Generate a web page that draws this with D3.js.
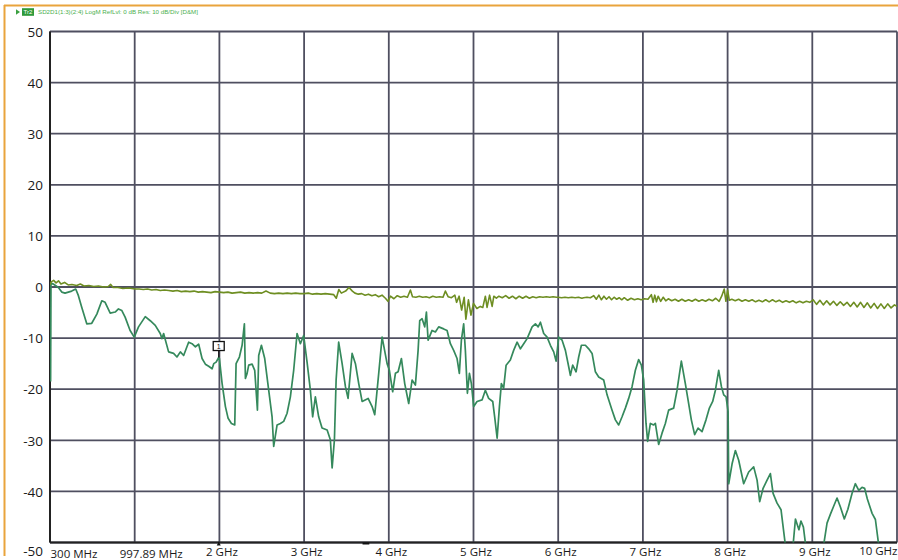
<!DOCTYPE html>
<html>
<head>
<meta charset="utf-8">
<script src="https://cdn.jsdelivr.net/npm/d3@7"></script>
<style>
  html, body { margin: 0; padding: 0; background: #ffffff; }
  svg { display: block; }
</style>
</head>
<body>
<svg id="chart" width="898" height="560"></svg>
<script>
// ---------------- DATA ----------------
const freqTicks = [0.3, 0.99789, 2, 3, 4, 5, 6, 7, 8, 9, 10];          // GHz at each vertical grid line
const freqLabels = ["300 MHz", "997.89 MHz", "2 GHz", "3 GHz", "4 GHz", "5 GHz", "6 GHz", "7 GHz", "8 GHz", "9 GHz", "10 GHz"];
const dbTicks = [50, 40, 30, 20, 10, 0, -10, -20, -30, -40, -50];
const headerTrace = "Tr2";
const headerText = "SD2D1(1:3)(2:4)  LogM RefLvl: 0  dB Res: 10  dB/Div  [D&M]";

// Lower trace (green) : [frequency GHz, dB]
const lowerTrace = [
[0.305,-18.5],[0.308,0.8],[0.327,0.6],[0.369,-0.1],[0.397,-1.0],[0.424,-1.2],[0.451,-1.0],[0.479,-0.8],[0.512,-0.4],[0.534,-1.7],
[0.562,-4.0],[0.603,-7.2],[0.644,-7.1],[0.686,-5.3],[0.727,-2.7],[0.754,-3.0],[0.796,-5.1],[0.837,-4.9],[0.864,-4.3],[0.892,-4.6],
[0.919,-5.9],[0.960,-8.5],[0.994,-9.8],[1.043,-7.8],[1.123,-5.8],[1.182,-6.6],[1.241,-7.5],[1.300,-9.1],[1.321,-10.1],[1.340,-9.1],
[1.399,-12.7],[1.458,-13.0],[1.498,-13.7],[1.538,-12.7],[1.577,-13.4],[1.636,-10.8],[1.676,-11.1],[1.716,-11.7],[1.755,-11.2],[1.795,-14.0],
[1.834,-15.1],[1.873,-15.5],[1.914,-16.0],[1.933,-15.0],[1.961,-14.7],[1.992,-13.8],[2.000,-14.0],[2.032,-18.9],[2.071,-23.4],[2.103,-25.7],
[2.142,-26.7],[2.181,-27.0],[2.197,-15.0],[2.236,-13.7],[2.268,-11.4],[2.295,-7.2],[2.307,-17.9],[2.327,-16.9],[2.346,-15.3],[2.386,-15.1],
[2.417,-16.3],[2.449,-24.1],[2.464,-13.4],[2.496,-11.4],[2.535,-14.0],[2.582,-20.2],[2.622,-25.4],[2.641,-31.2],[2.681,-27.0],[2.720,-26.7],
[2.759,-26.3],[2.799,-24.7],[2.838,-21.5],[2.877,-16.3],[2.917,-9.1],[2.956,-11.1],[2.995,-9.5],[3.035,-14.7],[3.074,-20.2],[3.101,-25.4],
[3.133,-21.5],[3.172,-25.4],[3.212,-27.6],[3.272,-28.0],[3.310,-29.9],[3.331,-35.4],[3.358,-29.9],[3.378,-18.2],[3.408,-10.8],[3.449,-15.0],
[3.488,-19.5],[3.519,-21.8],[3.567,-13.0],[3.606,-15.0],[3.645,-18.9],[3.685,-22.4],[3.756,-21.8],[3.803,-23.4],[3.834,-25.0],[3.881,-16.9],
[3.921,-9.8],[3.980,-15.0],[4.007,-16.3],[4.046,-20.5],[4.078,-16.9],[4.110,-16.6],[4.149,-14.0],[4.188,-18.9],[4.235,-22.8],[4.275,-18.2],
[4.314,-19.2],[4.346,-12.4],[4.365,-6.6],[4.393,-6.2],[4.424,-7.8],[4.444,-4.9],[4.464,-10.4],[4.511,-8.5],[4.550,-8.8],[4.589,-7.8],
[4.648,-8.2],[4.688,-8.5],[4.727,-11.1],[4.766,-12.4],[4.806,-14.0],[4.833,-16.9],[4.857,-10.4],[4.884,-7.2],[4.904,-12.4],[4.928,-20.8],
[4.952,-16.9],[4.975,-18.9],[5.002,-23.4],[5.042,-22.4],[5.101,-22.1],[5.140,-20.2],[5.179,-21.8],[5.227,-22.4],[5.250,-25.4],[5.279,-29.6],
[5.306,-23.4],[5.329,-18.9],[5.356,-19.8],[5.385,-15.3],[5.435,-14.3],[5.474,-12.4],[5.515,-10.8],[5.554,-12.1],[5.593,-11.1],[5.633,-10.1],
[5.692,-7.8],[5.731,-7.2],[5.763,-7.8],[5.790,-6.9],[5.829,-9.1],[5.869,-9.8],[5.908,-11.4],[5.947,-12.7],[5.975,-14.5],[6.006,-9.8],
[6.046,-10.4],[6.085,-12.4],[6.124,-15.6],[6.144,-17.3],[6.171,-15.3],[6.211,-16.6],[6.242,-13.7],[6.274,-11.4],[6.321,-11.4],[6.360,-12.1],
[6.400,-13.0],[6.439,-16.6],[6.478,-17.6],[6.537,-18.2],[6.577,-21.1],[6.636,-24.1],[6.675,-26.0],[6.714,-27.0],[6.754,-25.4],[6.793,-23.7],
[6.832,-21.8],[6.872,-19.5],[6.911,-16.3],[6.950,-14.2],[6.982,-15.3],[7.009,-18.2],[7.037,-26.7],[7.056,-30.2],[7.088,-26.7],[7.127,-27.0],
[7.147,-26.7],[7.186,-30.8],[7.226,-28.6],[7.265,-26.7],[7.304,-24.1],[7.363,-23.7],[7.403,-20.2],[7.454,-14.5],[7.501,-18.9],[7.533,-22.1],
[7.572,-26.0],[7.611,-28.9],[7.651,-27.6],[7.698,-28.3],[7.745,-26.0],[7.785,-23.7],[7.824,-22.4],[7.856,-20.2],[7.895,-16.3],[7.927,-19.5],
[7.954,-21.1],[7.982,-21.5],[8.006,-24.4],[8.013,-38.5],[8.053,-34.6],[8.092,-32.0],[8.131,-33.9],[8.190,-38.5],[8.249,-36.2],[8.308,-35.2],
[8.348,-37.8],[8.379,-42.0],[8.419,-39.4],[8.466,-37.8],[8.505,-36.5],[8.537,-40.4],[8.584,-42.3],[8.631,-43.6],[8.682,-50.5],[8.720,-55.0],
[8.765,-52.0],[8.801,-45.4],[8.842,-47.5],[8.866,-45.8],[8.895,-47.0],[8.925,-51.0],[8.955,-55.0],[9.036,-55.0],[9.134,-50.5],[9.174,-46.2],
[9.213,-44.5],[9.252,-42.9],[9.292,-41.3],[9.331,-43.0],[9.378,-45.4],[9.420,-43.5],[9.469,-40.4],[9.508,-38.5],[9.549,-39.8],[9.587,-39.2],
[9.618,-39.4],[9.650,-41.5],[9.706,-44.3],[9.745,-45.5],[9.784,-50.5],[9.830,-56.0]
];

// Upper trace (olive) : [frequency GHz, dB]
const upperTrace = [
[0.300,0.4],[0.310,1.0],[0.330,1.3],[0.350,0.8],[0.370,1.2],[0.390,0.6],[0.420,0.9],[0.450,0.4],[0.480,0.5],[0.520,0.3],
[0.550,0.6],[0.580,0.2],[0.620,0.3],[0.660,0.1],[0.700,0.2],[0.740,0.0],[0.780,0.1],[0.800,0.5],[0.820,-0.1],[0.860,-0.1],
[0.900,-0.3],[0.950,-0.2],[1.000,-0.4],[1.050,-0.4],[1.100,-0.5],[1.150,-0.4],[1.200,-0.6],[1.250,-0.5],[1.300,-0.7],[1.350,-0.6],
[1.400,-0.7],[1.450,-0.8],[1.500,-0.7],[1.550,-0.9],[1.600,-0.8],[1.650,-0.9],[1.700,-0.8],[1.750,-1.0],[1.800,-0.9],[1.850,-1.0],
[1.900,-1.1],[1.950,-0.9],[2.000,-1.0],[2.050,-1.1],[2.100,-1.0],[2.150,-1.2],[2.200,-1.1],[2.250,-1.0],[2.300,-1.2],[2.350,-1.1],
[2.400,-1.2],[2.450,-1.1],[2.500,-1.2],[2.550,-0.8],[2.600,-1.2],[2.650,-1.3],[2.700,-1.2],[2.750,-1.3],[2.800,-1.2],[2.850,-1.3],
[2.900,-1.2],[2.950,-1.3],[3.000,-1.3],[3.050,-1.2],[3.100,-1.4],[3.150,-1.3],[3.200,-1.4],[3.250,-1.3],[3.300,-1.4],[3.350,-1.5],
[3.380,-2.2],[3.410,-0.5],[3.440,-1.2],[3.490,-0.8],[3.530,-0.1],[3.570,-0.8],[3.600,-1.2],[3.640,-1.4],[3.680,-1.3],[3.720,-1.6],
[3.760,-1.4],[3.800,-1.7],[3.840,-1.5],[3.880,-1.9],[3.920,-1.6],[3.960,-2.2],[3.990,-2.8],[4.020,-1.8],[4.060,-2.3],[4.100,-1.7],
[4.140,-2.0],[4.180,-1.8],[4.220,-2.0],[4.255,-0.6],[4.280,-1.9],[4.320,-2.0],[4.360,-1.8],[4.400,-2.0],[4.440,-1.9],[4.480,-2.1],
[4.520,-1.8],[4.560,-2.0],[4.600,-1.9],[4.640,-2.0],[4.668,-0.8],[4.700,-1.9],[4.740,-2.1],[4.780,-1.6],[4.800,-3.0],[4.830,-1.8],
[4.860,-4.5],[4.890,-2.0],[4.910,-6.3],[4.940,-2.5],[4.970,-5.5],[5.000,-3.2],[5.040,-4.2],[5.080,-3.8],[5.110,-4.0],[5.140,-1.8],
[5.160,-4.0],[5.190,-1.6],[5.220,-3.8],[5.240,-1.8],[5.270,-2.2],[5.300,-1.8],[5.340,-2.1],[5.380,-1.7],[5.420,-2.2],[5.460,-1.8],
[5.500,-2.3],[5.540,-1.8],[5.580,-2.2],[5.620,-1.8],[5.660,-2.2],[5.700,-1.9],[5.740,-2.1],[5.780,-1.9],[5.820,-2.0],[5.860,-1.9],
[5.900,-2.0],[5.940,-1.9],[5.980,-2.0],[6.000,-2.0],[6.040,-2.1],[6.080,-2.0],[6.120,-2.1],[6.160,-2.0],[6.200,-2.1],[6.240,-2.0],
[6.280,-2.2],[6.300,-2.1],[6.340,-2.0],[6.380,-2.1],[6.420,-1.7],[6.450,-2.4],[6.480,-1.6],[6.510,-2.5],[6.540,-1.8],[6.570,-2.4],
[6.600,-1.9],[6.630,-2.5],[6.660,-2.0],[6.690,-2.4],[6.720,-2.1],[6.750,-2.5],[6.780,-2.1],[6.820,-2.6],[6.860,-2.2],[6.900,-2.5],
[6.940,-2.3],[6.980,-2.5],[7.020,-2.3],[7.060,-2.4],[7.100,-1.5],[7.120,-3.0],[7.140,-1.6],[7.160,-2.9],[7.180,-1.8],[7.210,-2.8],
[7.240,-2.0],[7.270,-2.7],[7.300,-2.3],[7.340,-2.7],[7.380,-2.4],[7.420,-2.8],[7.460,-2.4],[7.500,-2.8],[7.540,-2.5],[7.580,-2.8],
[7.620,-2.4],[7.660,-2.8],[7.700,-2.5],[7.740,-2.8],[7.780,-2.4],[7.820,-2.7],[7.860,-2.2],[7.900,-2.8],[7.930,-1.8],[7.960,-0.4],
[7.980,-2.8],[8.000,-0.6],[8.020,-2.6],[8.050,-2.4],[8.090,-2.7],[8.130,-2.4],[8.170,-2.8],[8.210,-2.5],[8.250,-2.8],[8.290,-2.5],
[8.330,-2.9],[8.370,-2.6],[8.410,-2.9],[8.450,-2.5],[8.490,-2.9],[8.530,-2.5],[8.570,-2.9],[8.610,-2.6],[8.650,-3.0],[8.690,-2.7],
[8.730,-3.0],[8.770,-2.7],[8.810,-3.1],[8.850,-2.8],[8.890,-3.1],[8.930,-2.8],[8.970,-3.0],[9.010,-2.5],[9.050,-3.4],[9.090,-2.6],
[9.130,-3.5],[9.170,-2.7],[9.210,-3.5],[9.250,-2.8],[9.290,-3.6],[9.330,-2.9],[9.370,-3.6],[9.410,-3.0],[9.450,-3.8],[9.490,-3.0],
[9.530,-3.9],[9.570,-3.0],[9.610,-4.0],[9.650,-3.1],[9.690,-4.1],[9.730,-3.2],[9.770,-4.2],[9.810,-3.3],[9.850,-4.2],[9.890,-3.3],
[9.930,-4.1],[9.970,-3.5],[10.000,-3.8]
];

const markerFreq = 1.992;
const markerDb = -13.8;
const markerLabel = "1";

// ---------------- LAYOUT ----------------
const W = 898, H = 560;
const plot = { left: 50, right: 897, top: 31.5, bottom: 542.5 };

const svg = d3.select("#chart");

const x = d3.scaleLinear()
  .domain(freqTicks)
  .range(freqTicks.map((d, i) => plot.left + i * (plot.right - plot.left) / (freqTicks.length - 1)));
const y = d3.scaleLinear().domain([-50, 50]).range([plot.bottom, plot.top]);

// Orange instrument frame
svg.append("line").attr("x1", 4).attr("x2", W).attr("y1", 5.5).attr("y2", 5.5)
  .attr("stroke", "#e9a43c").attr("stroke-width", 2);
svg.append("line").attr("x1", 4.5).attr("x2", 4.5).attr("y1", 5).attr("y2", 556)
  .attr("stroke", "#e9a43c").attr("stroke-width", 2);

// Header
const hdr = svg.append("g").attr("transform", "translate(16,12)");
hdr.append("path").attr("d", "M0,-2.8 L4,0 L0,2.8 Z").attr("fill", "#3aa040");
hdr.append("rect").attr("x", 6).attr("y", -3.8).attr("width", 12).attr("height", 7.6).attr("fill", "#2f9a3a");
hdr.append("text").attr("x", 12).attr("y", 2.2).attr("text-anchor", "middle")
  .attr("font-family", "Liberation Sans, Arial, sans-serif").attr("font-size", 6).attr("fill", "#ffffff")
  .text(headerTrace);
hdr.append("text").attr("x", 22).attr("y", 2.2)
  .attr("font-family", "Liberation Sans, Arial, sans-serif").attr("font-size", 6.2).attr("fill", "#4bb04f")
  .text(headerText);

// Grid
const gridColor = "#4f4f60";
const grid = svg.append("g");
grid.selectAll("line.v").data(freqTicks).join("line")
  .attr("x1", d => x(d)).attr("x2", d => x(d))
  .attr("y1", plot.top).attr("y2", plot.bottom)
  .attr("stroke", gridColor).attr("stroke-width", 1.8);
grid.selectAll("line.h").data(dbTicks).join("line")
  .attr("x1", plot.left).attr("x2", plot.right)
  .attr("y1", d => y(d)).attr("y2", d => y(d))
  .attr("stroke", gridColor).attr("stroke-width", 1.8);
// frame emphasis (left & bottom)
svg.append("line").attr("x1", plot.left).attr("x2", plot.left).attr("y1", plot.top).attr("y2", plot.bottom)
  .attr("stroke", "#222").attr("stroke-width", 2);
svg.append("line").attr("x1", plot.left).attr("x2", plot.right).attr("y1", plot.bottom).attr("y2", plot.bottom)
  .attr("stroke", "#222").attr("stroke-width", 2);

// Y axis labels
const yAxis = d3.axisLeft(y).tickValues(dbTicks).tickSize(0).tickPadding(0).tickFormat(d => d);
const yg = svg.append("g").attr("transform", `translate(${plot.left - 7},0)`).call(yAxis);
yg.select(".domain").remove();
yg.selectAll("text")
  .attr("font-family", "Open Sans, Noto Sans, sans-serif").attr("font-size", 13.5).attr("fill", "#1a1a1a")
  .attr("dy", (d) => d === -50 ? "0.95em" : "0.35em");

// X axis labels
const xAxis = d3.axisBottom(x).tickValues(freqTicks).tickSize(0).tickPadding(0)
  .tickFormat((d, i) => freqLabels[i]);
const xg = svg.append("g").attr("transform", `translate(0,${plot.bottom})`).call(xAxis);
xg.select(".domain").remove();
const nT = freqTicks.length;
xg.selectAll("text")
  .attr("font-family", "Open Sans, Noto Sans, sans-serif").attr("font-size", 11.5).attr("fill", "#1a1a1a")
  .attr("dy", (d, i) => i < 2 ? "1.38em" : (i === nT - 1 ? "1.05em" : "1.2em"))
  .attr("text-anchor", (d, i) => i === 0 ? "start" : (i === nT - 1 ? "end" : "middle"))
  .attr("dx", (d, i) => i === 0 ? 0 : i === 1 ? 16 : i === nT - 1 ? 0 : 2);

// Clip
svg.append("clipPath").attr("id", "clip").append("rect")
  .attr("x", plot.left).attr("y", plot.top).attr("width", plot.right - plot.left).attr("height", plot.bottom - plot.top);

const line = d3.line().x(d => x(d[0])).y(d => y(d[1]));
const traces = svg.append("g").attr("clip-path", "url(#clip)");

traces.append("path").datum(lowerTrace)
  .attr("d", line).attr("fill", "none")
  .attr("stroke", "#35895c").attr("stroke-width", 1.7).attr("stroke-linejoin", "round");
traces.append("path").datum(upperTrace)
  .attr("d", line).attr("fill", "none")
  .attr("stroke", "#6e8e22").attr("stroke-width", 1.6).attr("stroke-linejoin", "round");

// Marker 1
const mx = x(markerFreq), my = y(markerDb);
const mk = svg.append("g");
mk.append("line").attr("x1", mx).attr("x2", mx).attr("y1", my - 7).attr("y2", my)
  .attr("stroke", "#111").attr("stroke-width", 1.2);
mk.append("rect").attr("x", mx - 5.5).attr("y", my - 16).attr("width", 11).attr("height", 9)
  .attr("fill", "#fff").attr("stroke", "#111").attr("stroke-width", 1.3);
mk.append("text").attr("x", mx).attr("y", my - 8.8).attr("text-anchor", "middle")
  .attr("font-family", "Liberation Sans, Arial, sans-serif").attr("font-size", 7).attr("fill", "#111")
  .text(markerLabel);

// small marker indicators on the bottom edge
svg.append("path").attr("d", `M${mx - 2},${plot.bottom + 3} L${mx + 2},${plot.bottom + 3} L${mx},${plot.bottom - 1} Z`).attr("fill", "#111");
svg.append("line").attr("x1", x(3.69)).attr("x2", x(3.77)).attr("y1", plot.bottom + 1).attr("y2", plot.bottom + 1)
  .attr("stroke", "#111").attr("stroke-width", 2);
</script>
</body>
</html>
